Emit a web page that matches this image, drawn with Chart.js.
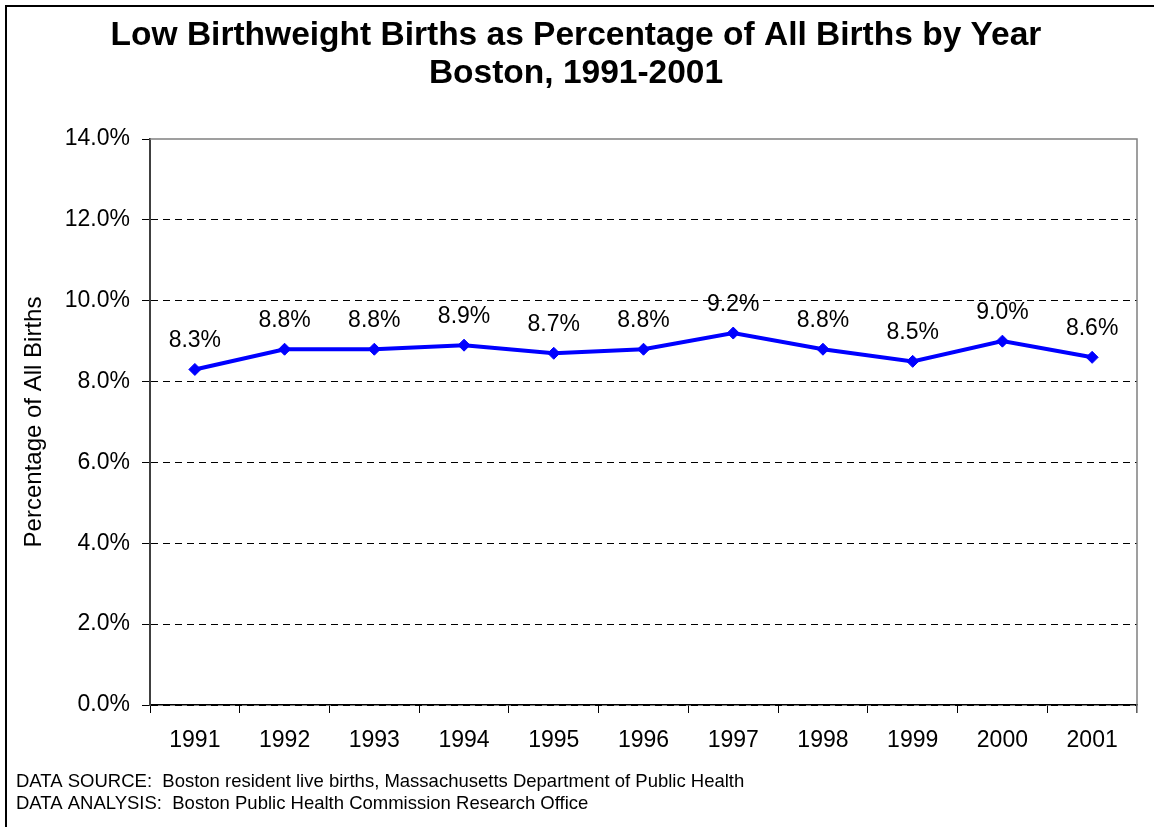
<!DOCTYPE html>
<html lang="en">
<head>
    <meta charset="UTF-8">
    <title>Low Birthweight Births Boston 1991-2001</title>
    <script src="https://cdn.jsdelivr.net/npm/chart.js"></script>
    <style>
        body {
            margin: 0;
            padding: 0;
            background-color: white;
        }

        #chartContainer {
            display: block;
        }
    </style>
</head>
<body>
    <canvas id="chartContainer" width="1154" height="827"></canvas>

    <script>
        // chart data
        const years = ['1991', '1992', '1993', '1994', '1995', '1996', '1997', '1998', '1999', '2000', '2001'];
        const lowBirthweightPct = [8.3, 8.8, 8.8, 8.9, 8.7, 8.8, 9.2, 8.8, 8.5, 9.0, 8.6];
        const yTickValues = [0, 2, 4, 6, 8, 10, 12, 14];
        const titleLines = ['Low Birthweight Births as Percentage of All Births by Year', 'Boston, 1991-2001'];
        const footerLines = [
            'DATA SOURCE:  Boston resident live births, Massachusetts Department of Public Health',
            'DATA ANALYSIS:  Boston Public Health Commission Research Office'
        ];

        const fontFamily = '"Liberation Sans", Arial, sans-serif';

        // white background, title, frame, grey plot edges, footer text
        const decorations = {
            id: 'decorations',
            beforeDraw(chart) {
                const ctx = chart.ctx;
                ctx.save();
                ctx.fillStyle = 'white';
                ctx.fillRect(0, 0, chart.width, chart.height);
                ctx.restore();
            },
            afterDraw(chart) {
                const ctx = chart.ctx;
                const area = chart.chartArea;
                ctx.save();
                // grey top and right edges of the plot area
                ctx.strokeStyle = '#808080';
                ctx.lineWidth = 1.5;
                ctx.beginPath();
                ctx.moveTo(area.left, area.top);
                ctx.lineTo(area.right, area.top);
                ctx.lineTo(area.right, area.bottom + 8);
                ctx.stroke();

                // outer frame (left and top only)
                ctx.fillStyle = '#000';
                ctx.fillRect(5, 5, 2, chart.height - 5);
                ctx.fillRect(5, 5, chart.width - 5, 2);

                // title
                ctx.font = 'bold 33.5px ' + fontFamily;
                ctx.textAlign = 'center';
                ctx.textBaseline = 'middle';
                titleLines.forEach((line, i) => {
                    ctx.fillText(line, 576, 36 + i * 38);
                });

                // footer
                ctx.font = '18.5px ' + fontFamily;
                ctx.textAlign = 'left';
                ctx.textBaseline = 'alphabetic';
                footerLines.forEach((line, i) => {
                    ctx.fillText(line, 16, 787 + i * 22);
                });
                ctx.restore();
            }
        };

        // value labels above each point
        const pointLabels = {
            id: 'pointLabels',
            afterDatasetsDraw(chart) {
                const ctx = chart.ctx;
                const meta = chart.getDatasetMeta(0);
                ctx.save();
                ctx.font = '23px ' + fontFamily;
                ctx.fillStyle = '#000';
                ctx.textAlign = 'center';
                ctx.textBaseline = 'alphabetic';
                meta.data.forEach((pt, i) => {
                    ctx.fillText(lowBirthweightPct[i].toFixed(1) + '%', pt.x, pt.y - 22);
                });
                ctx.restore();
            }
        };

        const ctx = document.getElementById('chartContainer').getContext('2d');
        const chart = new Chart(ctx, {
            type: 'line',
            data: {
                labels: years,
                datasets: [
                    {
                        label: 'Low birthweight %',
                        data: lowBirthweightPct,
                        borderColor: '#0000FF',
                        backgroundColor: '#0000FF',
                        borderWidth: 4,
                        pointStyle: 'rectRot',
                        pointRadius: 6,
                        pointBorderWidth: 1,
                        tension: 0
                    }
                ]
            },
            options: {
                responsive: false,
                animation: false,
                layout: {
                    padding: { top: 139, left: 0, right: 17, bottom: 0 }
                },
                plugins: {
                    legend: { display: false },
                    tooltip: { enabled: false },
                    title: { display: false }
                },
                scales: {
                    x: {
                        offset: true,
                        afterFit(scale) { scale.height = 122; },
                        grid: {
                            offset: true,
                            drawOnChartArea: false,
                            drawTicks: true,
                            tickLength: 8,
                            color: '#000'
                        },
                        border: { color: '#000', width: 1.5 },
                        ticks: {
                            color: '#000',
                            padding: 14,
                            maxRotation: 0,
                            font: { family: fontFamily, size: 23 }
                        }
                    },
                    y: {
                        min: 0,
                        max: 14,
                        afterFit(scale) { scale.width = 150; },
                        afterBuildTicks(scale) {
                            scale.ticks = yTickValues.map(v => ({ value: v }));
                        },
                        grid: {
                            color: c => (c.tick && c.tick.value === 14) ? 'rgba(0,0,0,0)' : '#000',
                            tickColor: '#000',
                            lineWidth: 1,
                            drawTicks: true,
                            tickLength: 8
                        },
                        border: { color: '#404040', width: 2, dash: [7, 5] },
                        ticks: {
                            color: '#000',
                            padding: 12,
                            font: { family: fontFamily, size: 23 },
                            callback: v => v.toFixed(1) + '%'
                        },
                        title: {
                            display: true,
                            text: 'Percentage of All Births',
                            color: '#000',
                            font: { family: fontFamily, size: 24 },
                            padding: { top: 20, bottom: 0 }
                        }
                    }
                }
            },
            plugins: [decorations, pointLabels]
        });
    </script>
</body>
</html>
